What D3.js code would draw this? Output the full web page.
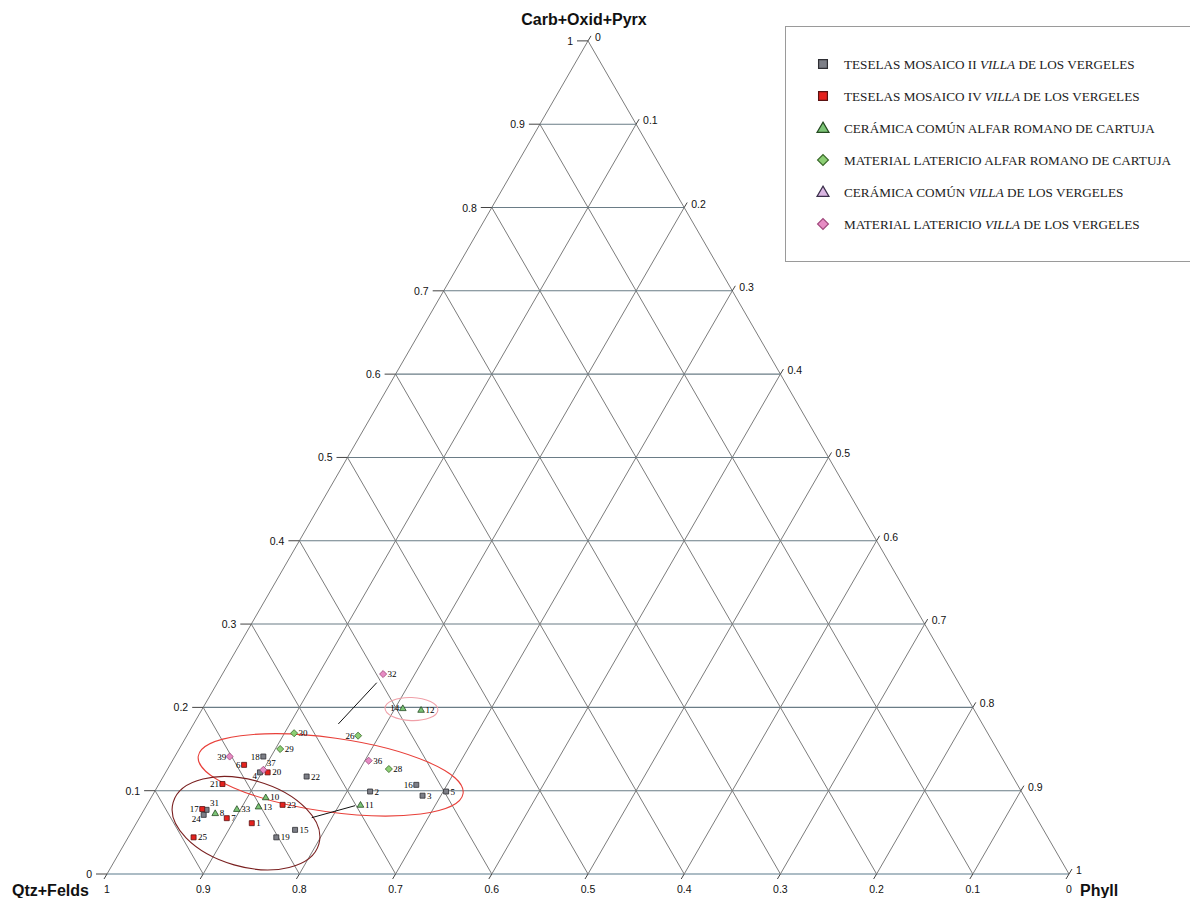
<!DOCTYPE html>
<html>
<head>
<meta charset="utf-8">
<script src="https://cdn.jsdelivr.net/npm/d3@7"></script>
<style>
  body { margin: 0; background: #fff; }
  svg { display: block; }
</style>
</head>
<body>
<script>
// DATA: [label, Carb+Oxid+Pyrx, Phyll]  (Qtz+Felds = 1 - carb - phyll)
const teselasII = [
  ["18", 0.141, 0.092], ["4", 0.122, 0.098], ["22", 0.117, 0.149],
  ["16", 0.107, 0.268], ["5", 0.099, 0.303], ["3", 0.094, 0.281],
  ["2", 0.099, 0.224], ["31", 0.077, 0.065], ["24", 0.071, 0.065],
  ["15", 0.053, 0.169], ["19", 0.044, 0.154]
]
const teselasIV = [
  ["6", 0.131, 0.077], ["20", 0.122, 0.106], ["21", 0.108, 0.066],
  ["23", 0.083, 0.141], ["17", 0.078, 0.060], ["7", 0.067, 0.091],
  ["1", 0.061, 0.120], ["25", 0.044, 0.068]
]
const ceramicaAlfar = [
  ["14", 0.199, 0.208], ["12", 0.197, 0.228], ["11", 0.083, 0.222],
  ["10", 0.092, 0.119], ["13", 0.081, 0.117], ["33", 0.078, 0.096],
  ["8", 0.073, 0.076]
]
const latericioAlfar = [
  ["30", 0.169, 0.110], ["26", 0.166, 0.178], ["29", 0.150, 0.105],
  ["28", 0.126, 0.230]
]
const ceramicaVilla = []
const latericioVilla = [
  ["32", 0.240, 0.167], ["39", 0.141, 0.057], ["37", 0.125, 0.100],
  ["36", 0.136, 0.204]
]

const legendNames = [
  ["TESELAS MOSAICO II ", "VILLA", " DE LOS VERGELES"],
  ["TESELAS MOSAICO IV ", "VILLA", " DE LOS VERGELES"],
  ["CERÁMICA COMÚN ALFAR ROMANO DE CARTUJA", "", ""],
  ["MATERIAL LATERICIO ALFAR ROMANO DE CARTUJA", "", ""],
  ["CERÁMICA COMÚN ", "VILLA", " DE LOS VERGELES"],
  ["MATERIAL LATERICIO ", "VILLA", " DE LOS VERGELES"]
]

const tickValues = [0, 0.1, 0.2, 0.3, 0.4, 0.5, 0.6, 0.7, 0.8, 0.9, 1]
const tickLabels = ["0", "0.1", "0.2", "0.3", "0.4", "0.5", "0.6", "0.7", "0.8", "0.9", "1"]

// ELLIPSES: [carb, phyll] centre, semi axes as fraction of side, rotation
const ellipses = [
  { c: 0.119, p: 0.173, rx: 0.139, ry: 0.0385, rot: 8, color: "#e8403a" },
  { c: 0.061, p: 0.114, rx: 0.0788, ry: 0.0451, rot: 16, color: "#7a2020" },
  { c: 0.198, p: 0.2175, rx: 0.0275, ry: 0.012, rot: 2, color: "#f0a0a8" }
]
// connector lines [carb1, phyll1, carb2, phyll2]
const connectors = [
  [0.2296, 0.1656, 0.1801, 0.1504],
  [0.0820, 0.2168, 0.0676, 0.1790]
]

//USEFUL VARIABLES
const svgwidth = 1190
const svgheight = 898
const side = 962
const originX = 107
const originY = 874

//SCALES
const X = d3.scaleLinear().domain([0, 1]).range([originX, originX + side])
const Y = d3.scaleLinear().domain([0, 1]).range([originY, originY - side * Math.sqrt(3) / 2])
const pos = (c, p) => [X(p + c / 2), Y(c)]

const svg = d3.select("body").append("svg")
  .attr("width", svgwidth)
  .attr("height", svgheight)
  .style("font-family", "Liberation Sans, Arial, sans-serif")

//GRID
const grid = svg.append("g")
tickValues.forEach(t => {
  if (t < 1) {
    // constant carb (horizontal)
    let a = pos(t, 0), b = pos(t, 1 - t)
    grid.append("line").attr("x1", a[0]).attr("y1", a[1]).attr("x2", b[0]).attr("y2", b[1])
      .attr("stroke", t === 0 ? "#5a7a8c" : "#6a7c86").attr("stroke-width", 1.1)
    // constant phyll
    a = pos(0, t); b = pos(1 - t, t)
    grid.append("line").attr("x1", a[0]).attr("y1", a[1]).attr("x2", b[0]).attr("y2", b[1])
      .attr("stroke", "#7c7c7c").attr("stroke-width", 1)
    // constant qtz
    a = pos(0, 1 - t); b = pos(1 - t, 0)
    grid.append("line").attr("x1", a[0]).attr("y1", a[1]).attr("x2", b[0]).attr("y2", b[1])
      .attr("stroke", "#7c7c7c").attr("stroke-width", 1)
  }
})

//TICKS AND LABELS
const axes = svg.append("g").attr("font-size", 10.5).attr("fill", "#111")
tickValues.forEach((t, i) => {
  // left axis: carb
  let a = pos(t, 0)
  axes.append("line").attr("x1", a[0] - 11).attr("y1", a[1]).attr("x2", a[0]).attr("y2", a[1])
    .attr("stroke", "#444")
  axes.append("text").attr("x", a[0] - 15).attr("y", a[1] + 4)
    .attr("text-anchor", "end").text(tickLabels[i])
  // right axis: phyll
  a = pos(1 - t, t)
  axes.append("line").attr("x1", a[0]).attr("y1", a[1]).attr("x2", a[0] + 3).attr("y2", a[1] - 5)
    .attr("stroke", "#444")
  axes.append("text").attr("x", a[0] + 7).attr("y", a[1])
    .text(tickLabels[i])
  // bottom axis: qtz
  a = pos(0, 1 - t)
  axes.append("line").attr("x1", a[0]).attr("y1", a[1]).attr("x2", a[0] - 3).attr("y2", a[1] + 5)
    .attr("stroke", "#444")
  axes.append("text").attr("x", a[0]).attr("y", 893)
    .attr("text-anchor", "middle").text(tickLabels[i])
})

//AXIS TITLES
const titles = svg.append("g").attr("font-size", 16).attr("font-weight", "bold").attr("fill", "#111")
titles.append("text").attr("x", pos(1, 0)[0] - 4).attr("y", 25).attr("text-anchor", "middle").text("Carb+Oxid+Pyrx")
titles.append("text").attr("x", 12).attr("y", 896).text("Qtz+Felds")
titles.append("text").attr("x", 1080).attr("y", 896).text("Phyll")

//ELLIPSES
ellipses.forEach(e => {
  const c = pos(e.c, e.p)
  svg.append("ellipse")
    .attr("cx", c[0]).attr("cy", c[1])
    .attr("rx", e.rx * side).attr("ry", e.ry * side)
    .attr("transform", `rotate(${e.rot}, ${c[0]}, ${c[1]})`)
    .attr("fill", "none").attr("stroke", e.color).attr("stroke-width", 1.1)
})
connectors.forEach(d => {
  const a = pos(d[0], d[1]), b = pos(d[2], d[3])
  svg.append("line").attr("x1", a[0]).attr("y1", a[1]).attr("x2", b[0]).attr("y2", b[1])
    .attr("stroke", "#111").attr("stroke-width", 1)
})

//SERIES STYLES
const series = [
  { data: teselasII, shape: d3.symbolSquare, rot: 0, fill: "#7d7f87", stroke: "#2e2e33" },
  { data: teselasIV, shape: d3.symbolSquare, rot: 0, fill: "#e5221e", stroke: "#5a1212" },
  { data: ceramicaAlfar, shape: d3.symbolTriangle, rot: 0, fill: "#7cc576", stroke: "#254a22" },
  { data: latericioAlfar, shape: d3.symbolSquare, rot: 45, fill: "#8ccf74", stroke: "#3c6a2c" },
  { data: ceramicaVilla, shape: d3.symbolTriangle, rot: 0, fill: "#dab6e2", stroke: "#3a2e4a" },
  { data: latericioVilla, shape: d3.symbolSquare, rot: 45, fill: "#e78cc4", stroke: "#a24a7e" }
]
const pointSize = { square: 25, triangle: 19 }
const legendSize = { square: 78, triangle: 62 }

// label placement that differs from default (right)
const labelPlace = {
  "17": "l", "21": "l", "18": "l", "6": "l", "16": "l", "26": "l", "14": "l", "39": "l",
  "24": "bl", "4": "bl", "37": "tr", "31": "tr"
}

//POINTS
const pts = svg.append("g").attr("font-family", "Liberation Serif, Times New Roman, serif").attr("font-size", 9)
series.forEach(s => {
  const size = s.shape === d3.symbolTriangle ? pointSize.triangle : pointSize.square
  s.data.forEach(d => {
    const [x, y] = pos(d[1], d[2])
    pts.append("path")
      .attr("d", d3.symbol().type(s.shape).size(size)())
      .attr("transform", `translate(${x}, ${y + (s.shape === d3.symbolTriangle ? 0.5 : 0)}) rotate(${s.rot})`)
      .attr("fill", s.fill).attr("stroke", s.stroke).attr("stroke-width", 0.8)
    const place = labelPlace[d[0]] || "r"
    let lx = x + 4.5, ly = y + 3, anchor = "start"
    if (place === "l") { lx = x - 3.5; anchor = "end" }
    if (place === "bl") { lx = x - 3; ly = y + 7; anchor = "end" }
    if (place === "tr") { lx = x + 3.5; ly = y - 3.5 }
    pts.append("text").attr("x", lx).attr("y", ly).attr("text-anchor", anchor)
      .attr("fill", "#000").text(d[0])
  })
})

//LEGEND
const legend = svg.append("g")
legend.append("rect").attr("x", 785.5).attr("y", 26.5).attr("width", 420).attr("height", 235)
  .attr("fill", "#fff").attr("stroke", "#9a9a9a").attr("stroke-width", 1)
series.forEach((s, i) => {
  const y = 64 + i * 32
  const size = s.shape === d3.symbolTriangle ? legendSize.triangle : legendSize.square * (s.rot ? 0.75 : 1)
  legend.append("path")
    .attr("d", d3.symbol().type(s.shape).size(size)())
    .attr("transform", `translate(823, ${y + (s.shape === d3.symbolTriangle ? 1 : 0)}) rotate(${s.rot})`)
    .attr("fill", s.fill).attr("stroke", s.stroke).attr("stroke-width", 1.2)
  const t = legend.append("text").attr("x", 844).attr("y", y + 4.5)
    .attr("font-family", "Liberation Serif, Times New Roman, serif").attr("font-size", 13.2)
    .attr("fill", "#222")
  t.append("tspan").text(legendNames[i][0])
  if (legendNames[i][1]) t.append("tspan").attr("font-style", "italic").text(legendNames[i][1])
  if (legendNames[i][2]) t.append("tspan").text(legendNames[i][2])
})
</script>
</body>
</html>
